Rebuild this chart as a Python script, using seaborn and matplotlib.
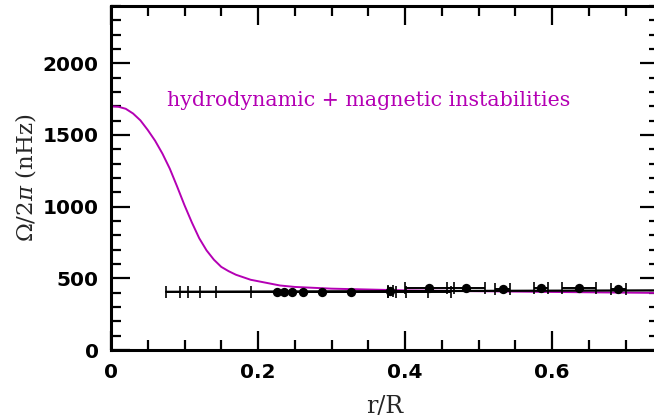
import numpy as np
import pandas as pd
import seaborn as sns
import matplotlib
matplotlib.use("Agg")
import matplotlib.pyplot as plt
from matplotlib.ticker import MultipleLocator

# model curve: hydrodynamic + magnetic instabilities
r_model = [0.0, 0.01, 0.02, 0.03, 0.04, 0.05, 0.06, 0.07, 0.08, 0.09, 0.10,
           0.11, 0.12, 0.13, 0.14, 0.15, 0.16, 0.17, 0.19, 0.20, 0.23, 0.25,
           0.30, 0.40, 0.50, 0.60, 0.75]
omega_model = [1700, 1697, 1683, 1650, 1602, 1535, 1460, 1370, 1265, 1140, 1010,
               890, 780, 695, 630, 580, 550, 525, 490, 480, 450, 440,
               428, 416, 410, 405, 398]

# observed rotation (seismic inversion), with horizontal resolution
r_obs = [0.226, 0.235, 0.246, 0.261, 0.287, 0.327, 0.380, 0.433, 0.483,
         0.533, 0.585, 0.637, 0.690]
omega_obs = [408, 408, 408, 407, 405, 406, 412, 430, 432, 428, 431, 431, 424]
r_err = [0.151, 0.1415, 0.1415, 0.140, 0.144, 0.136, 0.003, 0.033, 0.026,
         0.010, 0.010, 0.023, 0.010]

# mean rotation line
r_mean = [0.075, 0.75]
omega_mean = [406, 416]

magenta = "#b400b4"

sns.set_theme(style="ticks")
plt.rcParams["font.family"] = ["DejaVu Sans"]
plt.rcParams["mathtext.fontset"] = "dejavuserif"

fig = plt.figure(figsize=(6.54, 4.18), dpi=100)
x_max = 0.745
ax = fig.add_axes([111 / 654, 68 / 418, x_max * 735 / 654, 344 / 418])

df_model = pd.DataFrame({"r": r_model, "omega": omega_model})
df_obs = pd.DataFrame({"r": r_obs, "omega": omega_obs})

sns.lineplot(data=df_model, x="r", y="omega", color=magenta, lw=1.4, ax=ax)
ax.plot(r_mean, omega_mean, color="black", lw=1.6)
ax.errorbar(r_obs, omega_obs, xerr=r_err, fmt="none", ecolor="black",
            elinewidth=1.4, capsize=4, capthick=1.2)
sns.scatterplot(data=df_obs, x="r", y="omega", color="black", s=45,
                edgecolor="black", linewidth=0, zorder=5, ax=ax)

ax.set_xlim(0, x_max)
ax.set_ylim(0, 2400)
ax.xaxis.set_major_locator(MultipleLocator(0.2))
ax.xaxis.set_minor_locator(MultipleLocator(0.05))
ax.yaxis.set_major_locator(MultipleLocator(500))
ax.yaxis.set_minor_locator(MultipleLocator(100))
ax.set_xticks([0, 0.2, 0.4, 0.6])
ax.set_xticklabels(["0", "0.2", "0.4", "0.6"])

ax.tick_params(which="both", direction="in", top=True, right=True,
               width=1.6, labelsize=14.5, colors="black")
ax.tick_params(which="major", length=14, pad=9)
ax.tick_params(which="minor", length=7)
for lab in ax.get_xticklabels() + ax.get_yticklabels():
    lab.set_fontweight("bold")
for s in ax.spines.values():
    s.set_linewidth(2.2)
    s.set_color("black")

ax.set_xlabel("r/R", fontsize=17, family="DejaVu Serif", labelpad=10)
ax.set_ylabel(r"$\Omega/2\pi$ (nHz)", fontsize=16.5, family="DejaVu Serif",
              labelpad=3)

ax.text(0.076, 1740, "hydrodynamic + magnetic instabilities", color=magenta,
        fontsize=14.8, family="DejaVu Serif", va="center", ha="left")

fig.savefig("out.png", dpi=100)
